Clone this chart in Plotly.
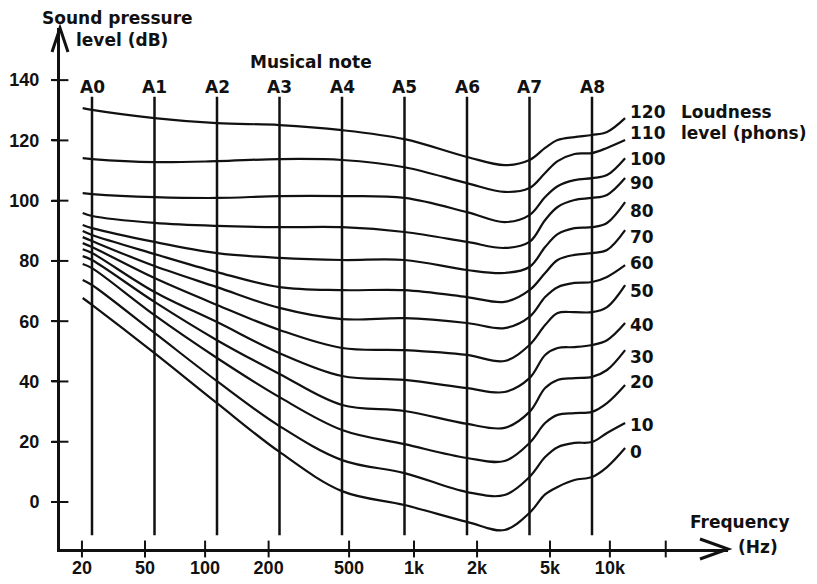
import math
import plotly.graph_objects as go

# ---------------- data ----------------
# frequencies (Hz) at which each equal-loudness contour was read
curve_freqs = [24.8, 27.5, 55, 110, 220, 440, 880, 1760, 2668, 3520,
               4186, 4808, 5797, 7040, 8316, 10164]

phon_levels = [120, 110, 100, 90, 80, 70, 60, 50, 40, 30, 20, 10, 0]

spl_120 = [130.7, 130.1, 127.4, 125.7, 125.1, 123.4, 120.4, 114.5, 111.8, 113.5, 117.5, 120.1, 121.1, 121.8, 122.8, 127.4]
spl_110 = [114.1, 113.8, 112.8, 113.1, 113.8, 113.5, 111.1, 105.8, 102.9, 104.2, 109.2, 113.1, 115.5, 115.8, 117.5, 120.1]
spl_100 = [102.5, 102.2, 101.2, 100.9, 101.5, 101.5, 100.9, 96.2, 92.9, 95.2, 101.2, 104.8, 106.8, 107.5, 108.5, 114.1]
spl_90 = [95.9, 94.9, 92.6, 91.6, 91.2, 91.2, 89.6, 86.3, 84.3, 86.3, 93.6, 97.9, 100.2, 100.9, 101.9, 107.5]
spl_80 = [91.9, 90.9, 86.3, 82.6, 81.0, 80.3, 80.3, 77.0, 76.0, 78.0, 84.6, 88.9, 90.9, 91.2, 92.6, 99.5]
spl_70 = [89.9, 88.6, 82.3, 76.3, 71.3, 70.3, 70.3, 68.0, 66.4, 70.3, 76.0, 80.3, 82.0, 82.6, 83.6, 90.2]
spl_60 = [87.9, 86.6, 78.3, 71.3, 64.4, 60.7, 61.0, 59.4, 57.7, 61.4, 68.0, 71.3, 72.7, 73.0, 74.7, 78.6]
spl_50 = [85.9, 84.6, 74.3, 65.4, 57.1, 51.1, 50.4, 48.8, 46.8, 52.1, 58.7, 62.7, 63.0, 63.0, 64.7, 72.0]
spl_40 = [83.9, 82.6, 69.7, 59.7, 49.4, 41.8, 40.5, 37.8, 36.5, 41.1, 48.8, 51.1, 51.4, 52.1, 53.7, 59.4]
spl_30 = [81.6, 80.3, 66.4, 53.7, 42.5, 32.2, 30.2, 25.9, 24.6, 29.9, 37.8, 40.5, 41.1, 41.5, 43.8, 50.4]
spl_20 = [79.0, 77.6, 62.0, 47.8, 34.8, 23.9, 19.2, 14.6, 13.6, 19.6, 26.2, 28.9, 29.5, 29.9, 32.8, 38.8]
spl_10 = [73.7, 72.0, 56.1, 40.1, 25.2, 13.9, 9.6, 3.3, 2.3, 8.3, 14.9, 18.2, 19.6, 19.9, 22.9, 26.2]
spl_0 = [67.7, 65.4, 49.4, 32.8, 16.6, 3.6, -1.0, -6.6, -9.3, -3.6, 2.5, 5.0, 7.3, 8.3, 11.6, 17.9]

contours = [spl_120, spl_110, spl_100, spl_90, spl_80, spl_70, spl_60,
            spl_50, spl_40, spl_30, spl_20, spl_10, spl_0]

note_names = ["A0", "A1", "A2", "A3", "A4", "A5", "A6", "A7", "A8"]
note_freqs = [27.5, 55, 110, 220, 440, 880, 1760, 3520, 7040]
note_span_db = [-11, 134.5]

x_tick_labels = ["20", "50", "100", "200", "500", "1k", "2k", "5k", "10k", ""]
x_tick_hz = [24.6, 49.5, 96.4, 195, 476, 978, 1968, 4417, 8584, 15950]
y_tick_vals = [0, 20, 40, 60, 80, 100, 120, 140]

# ---------------- figure ----------------
WORD_FONT = "DejaVu Sans"
NUM_FONT = "Liberation Sans, Arial, sans-serif"
INK = "#111111"
x_lo, x_hi = 27.5 * 2 ** -0.512, 27.5 * 2 ** 10.176
y_lo, y_hi = -15.6, 157.3


def wfont(size=17.5):
    return dict(size=size, color=INK, family=WORD_FONT, weight="bold")


def nfont(size=18):
    return dict(size=size, color=INK, family=NUM_FONT, weight="bold")


fig = go.Figure()

# vertical musical-note lines
lx, ly = [], []
for f in note_freqs:
    lx += [f, f, None]
    ly += [note_span_db[0], note_span_db[1], None]
fig.add_trace(go.Scatter(x=lx, y=ly, mode="lines",
                         line=dict(color=INK, width=2.5),
                         hoverinfo="skip", showlegend=False))

# contours
for ph, spl in zip(phon_levels, contours):
    fig.add_trace(go.Scatter(x=curve_freqs, y=spl, mode="lines",
                             line=dict(color=INK, width=2.2, shape="spline", smoothing=1.0),
                             name=f"{ph} phons", showlegend=False))

# crossing tick marks on the axes
fig.add_trace(go.Scatter(x=[x_lo] * len(y_tick_vals), y=y_tick_vals, mode="markers",
                         marker=dict(symbol="line-ew", size=12, line=dict(color=INK, width=2)),
                         cliponaxis=False, hoverinfo="skip", showlegend=False))
fig.add_trace(go.Scatter(x=x_tick_hz, y=[y_lo] * len(x_tick_hz), mode="markers",
                         marker=dict(symbol="line-ns", size=12, line=dict(color=INK, width=2)),
                         cliponaxis=False, hoverinfo="skip", showlegend=False))

annotations = []
# note names
for name, f in zip(note_names, note_freqs):
    annotations.append(dict(x=math.log10(f), y=137.8, text=name, showarrow=False,
                            xanchor="center", yanchor="middle", font=wfont(17)))
annotations.append(dict(x=math.log10(math.sqrt(220 * 440)), y=146.0, text="Musical note",
                        showarrow=False, xanchor="center", yanchor="middle", font=wfont(17)))

# phon labels at curve ends
label_yshift = [6, 7, -1, -5, -9, -7, 2, -6, -2, -7, 3, -2, -4]
for ph, spl, ys in zip(phon_levels, contours, label_yshift):
    annotations.append(dict(x=math.log10(curve_freqs[-1]), y=spl[-1], text=str(ph),
                            showarrow=False, xanchor="left", yanchor="middle",
                            xshift=3, yshift=ys, font=wfont(17)))

W, H = 668, 521  # plot area px


def px(xp, yp):
    return (xp - 60) / W, (549 - yp) / H


for text, (xp, yp), anchor in [("Loudness", (679, 112), "left"),
                               ("level (phons)", (679, 133), "left"),
                               ("Frequency", (740, 522), "center"),
                               ("(Hz)", (736, 547), "left"),
                               ("Sound pressure", (117, 18), "center"),
                               ("level (dB)", (122, 40), "center")]:
    xpp, ypp = px(xp, yp)
    annotations.append(dict(x=xpp, y=ypp, xref="paper", yref="paper", text=text,
                            showarrow=False, xanchor=anchor, yanchor="middle",
                            font=wfont(17)))

shapes = [
    dict(type="path", xref="paper", yref="paper", xsizemode="pixel", ysizemode="pixel",
         xanchor=1, yanchor=0, path="M-28,10 L0,0 L-28,-10",
         line=dict(color=INK, width=3)),
    dict(type="path", xref="paper", yref="paper", xsizemode="pixel", ysizemode="pixel",
         xanchor=0, yanchor=1, path="M-8,-24 L0,0 L8,-24",
         line=dict(color=INK, width=3)),
]

fig.update_layout(
    width=817, height=584,
    margin=dict(l=60, r=89, t=28, b=35),
    paper_bgcolor="white", plot_bgcolor="white",
    font=dict(family=NUM_FONT, size=16, color=INK),
    annotations=annotations, shapes=shapes,
    xaxis=dict(type="log", range=[math.log10(x_lo), math.log10(x_hi)], automargin=False,
               showgrid=False, zeroline=False, showline=True, linewidth=3, linecolor=INK,
               tickmode="array", tickvals=x_tick_hz, ticktext=x_tick_labels,
               ticks="", tickfont=nfont(18)),
    yaxis=dict(range=[y_lo, y_hi], automargin=False, showgrid=False, zeroline=False,
               showline=True, linewidth=3, linecolor=INK,
               tickmode="array", tickvals=y_tick_vals,
               ticks="outside", ticklen=6, tickwidth=2, tickcolor=INK,
               ticklabelstandoff=8, tickfont=nfont(18)),
)

fig.write_html("out.html", config={"displayModeBar": False},
               post_script="document.body.style.margin='0';document.body.style.padding='0';")
